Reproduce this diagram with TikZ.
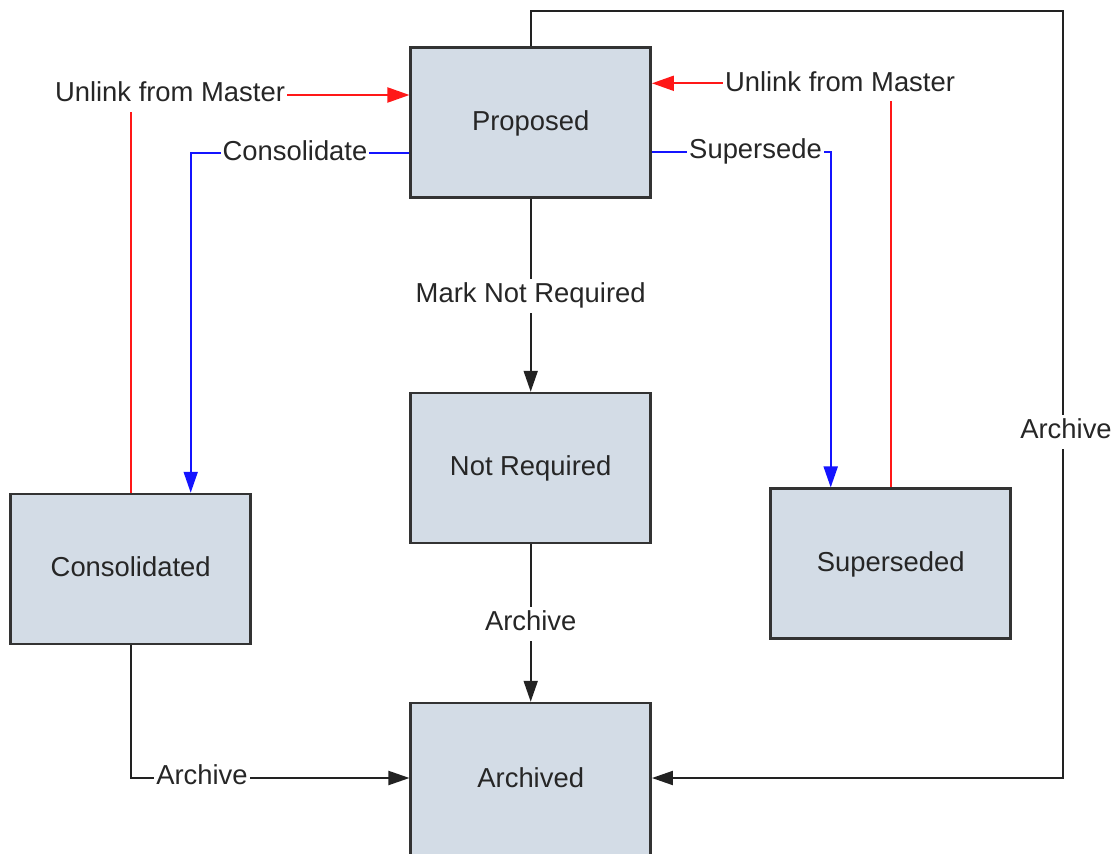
\documentclass[tikz,border=0pt]{standalone}
\usepackage{fontspec}
\setmainfont{Liberation Sans}
\usetikzlibrary{arrows.meta}
\definecolor{boxfill}{RGB}{211,220,230}
\definecolor{boxline}{RGB}{51,51,51}
\definecolor{txt}{RGB}{38,38,38}
\definecolor{lnk}{RGB}{34,34,34}
\definecolor{rd}{RGB}{255,24,24}
\definecolor{bl}{RGB}{20,20,255}
\begin{document}
\begin{tikzpicture}[x=1pt,y=-1pt,
  state/.style={draw=boxline, line width=2.5pt, fill=boxfill, minimum width=240pt, minimum height=150pt,
    inner sep=0pt, text=txt, font=\fontsize{27.4pt}{32pt}\selectfont, text height=19.7pt, text depth=4.1pt},
  lbl/.style={fill=white, text=txt, font=\fontsize{27.4pt}{32pt}\selectfont, inner xsep=2pt, inner ysep=3pt,
    text height=20.5pt, text depth=6.85pt},
  conn/.style={line width=2pt, draw=lnk, -{Triangle[length=21pt,width=14pt]}},
  redc/.style={line width=2pt, draw=rd, -{Triangle[length=22pt,width=15pt]}},
  bluec/.style={line width=2pt, draw=bl, -{Triangle[length=21pt,width=14pt]}}]
\useasboundingbox (0,0) rectangle (1115,853);
\fill[white] (0,0) rectangle (1115,853);

\node[state] (prop) at (530.7,122.5) {Proposed};
\node[state] (notreq) at (530.7,468) {Not Required};
\node[state] (cons) at (130.7,569) {Consolidated};
\node[state] (sup) at (890.7,563.7) {Superseded};
\node[state, minimum height=154pt] (arch) at (530.7,780) {Archived};
\coordinate (topright) at (1062.7,10.7);

% connectors
\draw[redc] (cons.north) |- ([yshift=27.5pt]prop.west);
\draw[bluec] ([yshift=-30.5pt]prop.west) -| ([xshift=60pt]cons.north);
\draw[redc] (sup.north) |- ([yshift=39.2pt]prop.east);
\draw[bluec] ([yshift=-29.3pt]prop.east) -| ([xshift=-60pt]sup.north);
\draw[conn] (prop.south) -- (notreq.north);
\draw[conn] (notreq.south) -- (arch.north);
\draw[conn] (cons.south) |- ([yshift=2pt]arch.west);
\draw[conn] (prop.north) |- (topright) |- ([yshift=2pt]arch.east);

% labels
\node[lbl] (l1) at (170,95) {Unlink from Master};
\node[lbl] (l2) at (295,153.3) {Consolidate};
\node[lbl] (l3) at (840,84.5) {Unlink from Master};
\node[lbl] (l4) at (755.5,151.7) {Supersede};
\node[lbl] (l5) at (530.7,296) {Mark Not Required};
\node[lbl] (l6) at (530.7,624) {Archive};
\node[lbl] (l7) at (202,778) {Archive};
\node[lbl] (l8) at (1066,432) {Archive};
\end{tikzpicture}
\end{document}
